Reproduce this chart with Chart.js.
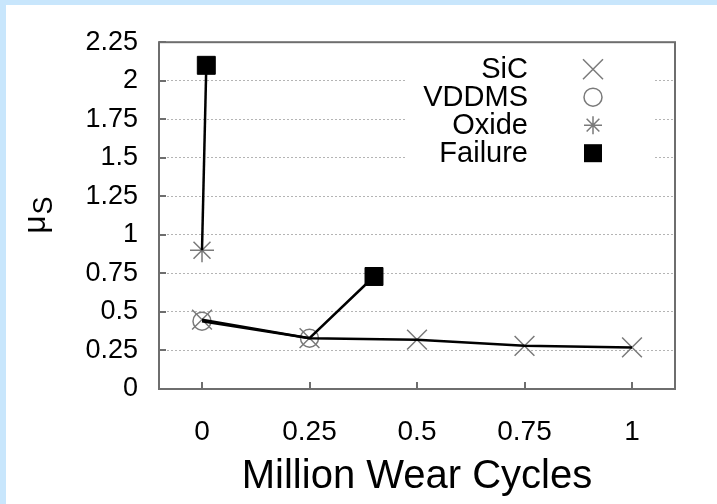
<!DOCTYPE html>
<html>
<head>
<meta charset="utf-8">
<script src="https://cdn.jsdelivr.net/npm/chart.js@4.4.0/dist/chart.umd.min.js"></script>
<style>
    html, body { margin: 0; padding: 0; background: #c8e6fc; overflow: hidden; }
    #wrap { position: absolute; left: 6px; top: 5px; width: 711px; height: 499px; background: #fff; }
</style>
</head>
<body>
<div id="wrap"><canvas id="chart" width="711" height="499"></canvas></div>
<script>
// --- Date ---
const xTicks = [0, 0.25, 0.5, 0.75, 1];
const yTicks = [0, 0.25, 0.5, 0.75, 1, 1.25, 1.5, 1.75, 2, 2.25];

const seriesNames = ['SiC', 'VDDMS', 'Oxide', 'Failure'];

const sicX = [0, 0.25, 0.5, 0.75, 1];
const sicY = [0.45, 0.33, 0.32, 0.28, 0.27];

const vddmsX = [0, 0.25];
const vddmsY = [0.44, 0.33];

const oxideX = [0];
const oxideY = [0.9];

// primul punct de cedare vine dupa Oxide, al doilea dupa VDDMS
const failureX = [0.01, 0.4];
const failureY = [2.1, 0.73];

const FONT = "'Liberation Sans', Arial, Helvetica, sans-serif";
const MARK = '#7a7a7a';

const pts = (xs, ys) => xs.map((x, i) => ({ x: x, y: ys[i] }));

const sicPts = pts(sicX, sicY);
const vddmsPts = pts(vddmsX, vddmsY);
const oxidePts = pts(oxideX, oxideY);
const failurePts = pts(failureX, failureY);

// Liniile: fiecare serie se termina in punctul ei de cedare
const vddmsLine = vddmsPts.concat([failurePts[1]]);
const oxideLine = oxidePts.concat([failurePts[0]]);

function drawMarker(ctx, style, x, y) {
    ctx.save();
    ctx.lineWidth = 1.5;
    ctx.strokeStyle = MARK;
    ctx.beginPath();
    if (style === 'crossRot') {
        const d = 10;
        ctx.moveTo(x - d, y - d); ctx.lineTo(x + d, y + d);
        ctx.moveTo(x - d, y + d); ctx.lineTo(x + d, y - d);
        ctx.stroke();
    } else if (style === 'circle') {
        ctx.arc(x, y, 9, 0, Math.PI * 2);
        ctx.stroke();
    } else if (style === 'star') {
        const r = 9, d = r * Math.SQRT1_2;
        ctx.moveTo(x - r, y); ctx.lineTo(x + r, y);
        ctx.moveTo(x, y - r); ctx.lineTo(x, y + r);
        ctx.moveTo(x - d, y - d); ctx.lineTo(x + d, y + d);
        ctx.moveTo(x - d, y + d); ctx.lineTo(x + d, y - d);
        ctx.stroke();
    } else if (style === 'rect') {
        ctx.fillStyle = '#000';
        ctx.fillRect(x - 9, y - 9, 18, 18);
    }
    ctx.restore();
}

// Legenda, cadrul, tick-urile interioare si titlul axei Y
const decorPlugin = {
    id: 'decor',
    beforeDatasetsDraw(chart) {
        const { ctx, chartArea: a } = chart;
        ctx.save();
        ctx.fillStyle = '#fff';
        ctx.fillRect(a.right - 270, a.top + 6, 250, 124);
        const styles = ['crossRot', 'circle', 'star', 'rect'];
        ctx.font = '29px ' + FONT;
        ctx.fillStyle = '#000';
        ctx.textAlign = 'right';
        ctx.textBaseline = 'middle';
        seriesNames.forEach((name, i) => {
            const y = a.top + 27 + i * 28;
            ctx.fillText(name, a.right - 147, y + 1);
            drawMarker(ctx, styles[i], a.right - 82, y);
        });
        ctx.restore();
    },
    afterDatasetsDraw(chart) {
        const { ctx, chartArea: a, scales } = chart;
        ctx.save();
        ctx.strokeStyle = '#6e6e6e';
        ctx.lineWidth = 2;
        ctx.beginPath();
        yTicks.forEach(v => {
            const y = Math.round(scales.y.getPixelForValue(v));
            ctx.moveTo(a.left, y); ctx.lineTo(a.left + 7, y);
        });
        xTicks.forEach(v => {
            const x = Math.round(scales.x.getPixelForValue(v));
            ctx.moveTo(x, a.bottom); ctx.lineTo(x, a.bottom - 7);
        });
        ctx.stroke();
        ctx.strokeRect(a.left, a.top, a.right - a.left, a.bottom - a.top);

        // titlul axei Y: mu cu indice S
        ctx.translate(39, (a.top + a.bottom) / 2);
        ctx.rotate(-Math.PI / 2);
        ctx.fillStyle = '#000';
        ctx.textBaseline = 'alphabetic';
        ctx.textAlign = 'left';
        ctx.font = '32px ' + FONT;
        const w1 = ctx.measureText('μ').width;
        ctx.font = '27px ' + FONT;
        const w2 = ctx.measureText('S').width;
        const x0 = -(w1 + w2) / 2;
        ctx.font = '32px ' + FONT;
        ctx.fillText('μ', x0, 0);
        ctx.font = '27px ' + FONT;
        ctx.fillText('S', x0 + w1 + 1, 7);
        ctx.restore();
    }
};

const chart = new Chart(document.getElementById('chart'), {
    type: 'scatter',
    data: {
        datasets: [
            // linii (desenate deasupra markerilor)
            { label: 'SiC line', data: sicPts, showLine: true, borderColor: '#000', borderWidth: 2.5, pointRadius: 0, order: 0 },
            { label: 'VDDMS line', data: vddmsLine, showLine: true, borderColor: '#000', borderWidth: 2.5, pointRadius: 0, order: 0 },
            { label: 'Oxide line', data: oxideLine, showLine: true, borderColor: '#000', borderWidth: 2.5, pointRadius: 0, order: 0 },
            // markeri
            { label: seriesNames[0], data: sicPts, pointStyle: 'crossRot', pointRadius: 14, borderColor: MARK, pointBorderWidth: 1.5, order: 1 },
            { label: seriesNames[1], data: vddmsPts, pointStyle: 'circle', pointRadius: 9, borderColor: MARK, backgroundColor: 'transparent', pointBorderWidth: 1.5, order: 1 },
            { label: seriesNames[2], data: oxidePts, pointStyle: 'star', pointRadius: 12, borderColor: MARK, pointBorderWidth: 1.5, order: 1 },
            { label: seriesNames[3], data: failurePts, pointStyle: 'rect', pointRadius: 12.7, borderColor: '#000', backgroundColor: '#000', pointBorderWidth: 1, order: -1 }
        ]
    },
    options: {
        responsive: false,
        animation: false,
        devicePixelRatio: 1,
        layout: { padding: { top: 36, right: 42, left: 0, bottom: 0 } },
        plugins: { legend: { display: false }, tooltip: { enabled: false } },
        scales: {
            x: {
                type: 'linear', min: -0.1, max: 1.1,
                afterBuildTicks: s => { s.ticks = xTicks.map(v => ({ value: v })); },
                afterFit: s => { s.height = 115; },
                grid: { display: false, drawTicks: false },
                border: { display: false },
                ticks: { color: '#000', font: { family: FONT, size: 28 }, padding: 26, maxRotation: 0, callback: v => String(v) },
                title: {
                    display: true, text: 'Million Wear Cycles', color: '#000',
                    font: { family: FONT, size: 40 }, padding: { top: 0, bottom: 3 }
                }
            },
            y: {
                type: 'linear', min: 0, max: 2.25,
                afterBuildTicks: s => { s.ticks = yTicks.map(v => ({ value: v })); },
                afterFit: s => { s.width = 153; },
                grid: {
                    drawTicks: false, lineWidth: 1,
                    color: c => (c.tick && c.tick.value > 0 && c.tick.value < 2.25) ? '#b4b4b4' : 'rgba(0,0,0,0)'
                },
                border: { display: false, dash: [2, 2] },
                ticks: { color: '#000', font: { family: FONT, size: 27 }, padding: 21, callback: v => String(v) }
            }
        }
    },
    plugins: [decorPlugin]
});
</script>
</body>
</html>
